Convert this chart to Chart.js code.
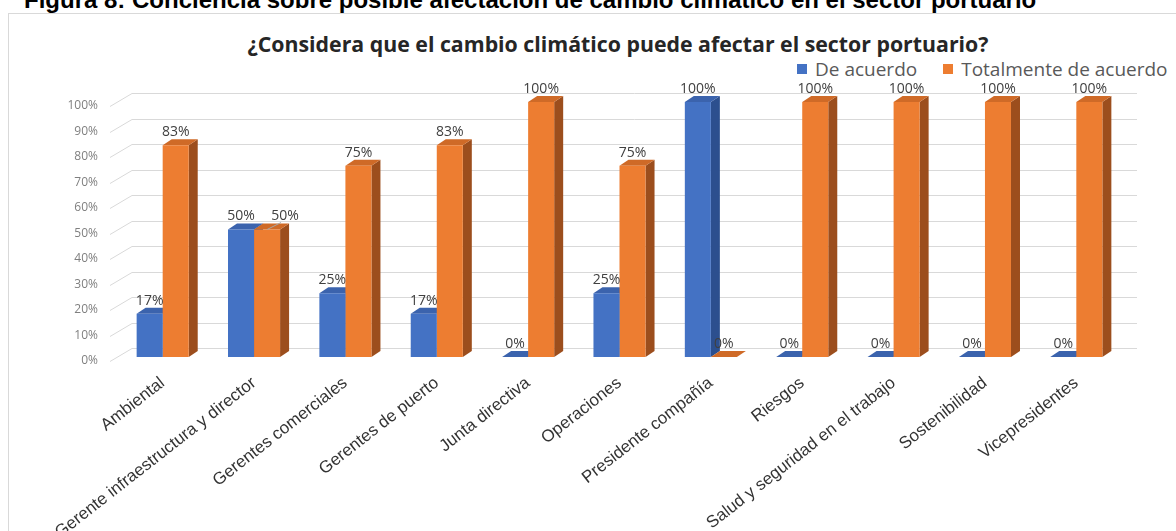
<!DOCTYPE html>
<html>
<head>
<meta charset="utf-8">
<script src="https://cdn.jsdelivr.net/npm/chart.js@4.4.1/dist/chart.umd.min.js"></script>
<style>
  html, body { margin: 0; padding: 0; background: #fff; }
  body { width: 1176px; height: 531px; position: relative; overflow: hidden; }
  #caption { position: absolute; left: 24px; top: -12px; font: bold 24px "Liberation Sans", Arial, sans-serif; line-height: 24px; color: #000; white-space: nowrap; }
  #frame { position: absolute; left: 8px; top: 13px; width: 1300px; height: 700px; border: 1px solid #d9d9d9; }
  #title { position: absolute; left: 0; top: 32px; width: 1236px; text-align: center; font: bold 21.3px "Open Sans", sans-serif; line-height: 24px; color: #262626; white-space: nowrap; }
  #legend { position: absolute; left: 797px; top: 57px; display: flex; font: 19px "Open Sans", sans-serif; line-height: 24px; color: #595959; white-space: nowrap; }
  #legend span.item { display: flex; align-items: center; margin-right: 26px; white-space: nowrap; }
  #legend span.box { width: 10px; height: 10px; margin-right: 8px; display: inline-block; flex: none; }
  #myChart { position: absolute; left: 0; top: 0; }
</style>
</head>
<body>
<div id="caption">Figura 8: Conciencia sobre posible afectación de cambio climático en el sector portuario</div>
<div id="frame"></div>
<div id="title">¿Considera que el cambio climático puede afectar el sector portuario?</div>
<div id="legend"></div>
<canvas id="myChart" width="1176" height="531"></canvas>
<script>
let categories = ["Ambiental", "Gerente infraestructura y director", "Gerentes comerciales",
    "Gerentes de puerto", "Junta directiva", "Operaciones", "Presidente compañía", "Riesgos",
    "Salud y seguridad en el trabajo", "Sostenibilidad", "Vicepresidentes"];

let deAcuerdo = [0.17, 0.50, 0.25, 0.17, 0, 0.25, 1.00, 0, 0, 0, 0];
let totalmente = [0.83, 0.50, 0.75, 0.83, 1.00, 0.75, 0, 1.00, 1.00, 1.00, 1.00];

let tickValues = [0, 0.1, 0.2, 0.3, 0.4, 0.5, 0.6, 0.7, 0.8, 0.9, 1.0];

// darker shades for the fake 3d faces
let faces = [
    { side: "#2c4f8e", top: "#3b63ad" },
    { side: "#9c4e1d", top: "#cf6a27" }
];

let ctx = document.getElementById('myChart');

let grid3d = {
    id: 'grid3d',
    beforeDatasetsDraw(chart) {
        let g = chart.ctx;
        let area = chart.chartArea;
        let yScale = chart.scales.y;
        g.save();
        g.strokeStyle = "#d9d9d9";
        g.lineWidth = 1;
        tickValues.forEach(v => {
            let y = Math.round(yScale.getPixelForValue(v)) + 0.5;
            g.beginPath();
            g.moveTo(area.left - 7, y + 4);
            g.lineTo(area.left + 15, y - 9);
            g.lineTo(area.right + 15, y - 9);
            g.stroke();
        });
        // side and top faces, drawn behind the front faces
        chart.data.datasets.forEach((ds, i) => {
            let meta = chart.getDatasetMeta(i);
            meta.data.forEach(bar => {
                let p = bar.getProps(['x', 'y', 'base', 'width'], true);
                let l = p.x - p.width / 2, r = p.x + p.width / 2;
                let dx = 9, dy = 6;
                g.fillStyle = faces[i].side;
                g.beginPath();
                g.moveTo(r, p.y);
                g.lineTo(r + dx, p.y - dy);
                g.lineTo(r + dx, p.base - dy);
                g.lineTo(r, p.base);
                g.closePath();
                g.fill();
                g.fillStyle = faces[i].top;
                g.beginPath();
                g.moveTo(l, p.y);
                g.lineTo(l + dx, p.y - dy);
                g.lineTo(r + dx, p.y - dy);
                g.lineTo(r, p.y);
                g.closePath();
                g.fill();
            });
        });
        g.restore();
    }
};

let valueLabels = {
    id: 'valueLabels',
    afterDatasetsDraw(chart) {
        let g = chart.ctx;
        let first = chart.getDatasetMeta(0).data;
        g.save();
        g.font = '14px "Open Sans", sans-serif';
        g.textAlign = "center";
        g.textBaseline = "middle";
        chart.data.datasets.forEach((ds, i) => {
            chart.getDatasetMeta(i).data.forEach((bar, j) => {
                let p = bar.getProps(['x', 'y'], true);
                let x = p.x, y = p.y - 13;
                // push the second label aside when it would sit on top of the first
                if (i > 0 && Math.abs(first[j].y - p.y) < 14) {
                    x += 18;
                    g.strokeStyle = "#a6a6a6";
                    g.beginPath();
                    g.moveTo(p.x, p.y);
                    g.lineTo(x - 4, y + 6);
                    g.stroke();
                }
                g.fillStyle = "#404040";
                g.fillText(Math.round(ds.data[j] * 100) + "%", x, y);
            });
        });
        g.restore();
    }
};

const myChart = new Chart(ctx, {
    type: 'bar',
    data: {
        labels: categories,
        datasets: [
            { label: "De acuerdo", data: deAcuerdo, backgroundColor: "#4472c4" },
            { label: "Totalmente de acuerdo", data: totalmente, backgroundColor: "#ed7d31" }
        ]
    },
    options: {
        responsive: false,
        animation: false,
        layout: { padding: { top: 102, right: 54, left: 0, bottom: 0 } },
        datasets: { bar: { barPercentage: 1, categoryPercentage: 0.57, borderWidth: 0 } },
        plugins: { legend: { display: false }, title: { display: false }, tooltip: { enabled: false } },
        scales: {
            y: {
                min: 0,
                max: 1,
                afterBuildTicks: s => { s.ticks = tickValues.map(v => ({ value: v })); },
                afterFit: s => { s.width = 117; },
                grid: { display: false },
                border: { display: false },
                ticks: {
                    callback: v => Math.round(v * 100) + "%",
                    font: { family: "Open Sans", size: 12 },
                    color: "#7f7f7f",
                    padding: 11,
                    labelOffset: 4
                }
            },
            x: {
                afterFit: s => { s.height = 174; },
                grid: { display: false, drawTicks: false },
                border: { display: false },
                ticks: {
                    autoSkip: false,
                    maxRotation: 38,
                    minRotation: 38,
                    padding: 16,
                    font: { family: "Liberation Sans", size: 17 },
                    color: "#333333"
                }
            }
        }
    },
    plugins: [grid3d, valueLabels]
});

let legendBox = document.getElementById('legend');
myChart.data.datasets.forEach(ds => {
    let item = document.createElement('span');
    item.className = 'item';
    let box = document.createElement('span');
    box.className = 'box';
    box.style.background = ds.backgroundColor;
    item.appendChild(box);
    item.appendChild(document.createTextNode(ds.label));
    legendBox.appendChild(item);
});
</script>
</body>
</html>
